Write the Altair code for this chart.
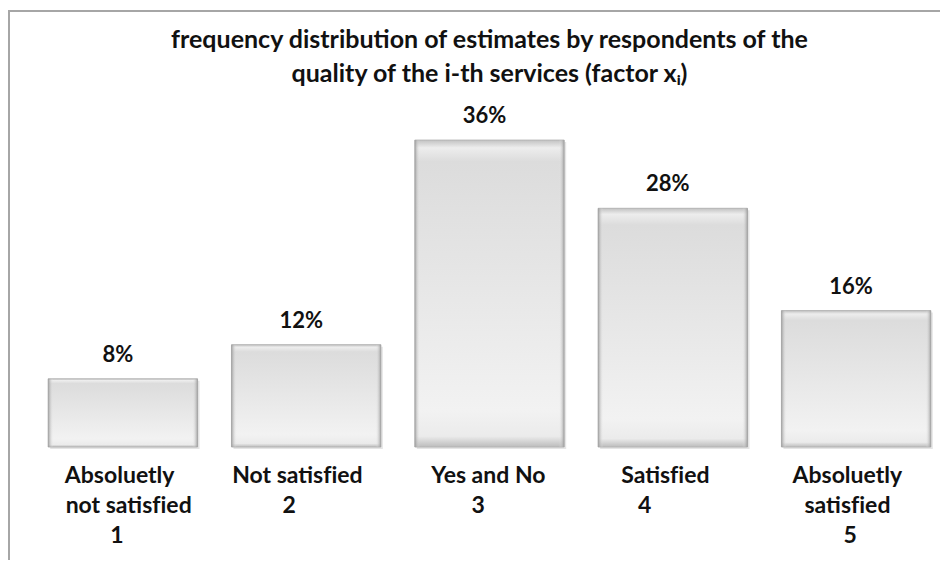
import altair as alt
import pandas as pd

# Survey answers: category caption lines, score code and share of respondents (%)
captions = [
    ["Absoluetly", "not satisfied", "1"],
    ["Not satisfied", "2"],
    ["Yes and No", "3"],
    ["Satisfied", "4"],
    ["Absoluetly", "satisfied", "5"],
]
shares = [8, 12, 36, 28, 16]

title_lines = [
    "frequency distribution of estimates by respondents of the",
    "quality of the i-th services (factor x\u1d62)",
]

# Horizontal indent (px) of each wrapped caption line from the caption's left edge
caption_indent_px = [
    [14, 14, 59],
    [1, 47],
    [16, 55],
    [24, 41],
    [13, 21, 58],
]
SPACE_PX = 5.5          # advance of one no-break space at the label size

ZWSP, NBSP, ZWNJ = "\u200b", "\u00a0", "\u200c"
FONT = "Lato"
INK = "#111111"

W, H = 901, 341
PAD = {"left": 39, "top": 106, "right": 0, "bottom": 113}


def caption_line(text, indent_px):
    # keep "f"+"i" as two glyphs, and hold the indent with no-break spaces
    text = text.replace("fi", "f" + ZWNJ + "i")
    n = int(round(indent_px / SPACE_PX))
    return (ZWSP + NBSP * n + text) if n else text


labels = [
    "|".join(caption_line(line, px) for line, px in zip(lines, ind))
    for lines, ind in zip(captions, caption_indent_px)
]
df = pd.DataFrame({
    "answer": labels,
    "share": shares,
    "share_text": [f"{v}%" for v in shares],
})

x_enc = alt.X(
    "answer:N",
    sort=labels,
    title=None,
    scale=alt.Scale(paddingInner=0.185, paddingOuter=0.05),
    axis=alt.Axis(
        labelExpr="split(datum.value, '|')",
        labelFont=FONT,
        labelFontSize=23,
        labelFontWeight="bold",
        labelColor=INK,
        labelLineHeight=30,
        labelAlign="left",
        labelBaseline="top",
        labelOffset=-74,
        labelPadding=17,
        labelOverlap=False,
        labelBound=False,
        labelFlush=False,
        labelAngle=0,
        domain=False,
        ticks=False,
        grid=False,
    ),
)
y_enc = alt.Y("share:Q", scale=alt.Scale(domain=[0, 40], nice=False), axis=None)

base = alt.Chart(df).encode(x=x_enc, y=y_enc)

face = alt.Gradient(
    gradient="linear",
    x1=0, x2=0, y1=0, y2=1,
    stops=[
        alt.GradientStop(color="#c2c2c2", offset=0.0),
        alt.GradientStop(color="#ededed", offset=0.025),
        alt.GradientStop(color="#dcdcdc", offset=0.07),
        alt.GradientStop(color="#e6e6e6", offset=0.45),
        alt.GradientStop(color="#f2f2f2", offset=0.88),
        alt.GradientStop(color="#ebebeb", offset=0.965),
        alt.GradientStop(color="#bcbcbc", offset=1.0),
    ],
)
bevel = alt.Gradient(
    gradient="linear",
    x1=0, x2=1, y1=0, y2=0,
    stops=[
        alt.GradientStop(color="rgba(150,150,150,0.85)", offset=0.0),
        alt.GradientStop(color="rgba(235,235,235,0.0)", offset=0.035),
        alt.GradientStop(color="rgba(235,235,235,0.0)", offset=0.965),
        alt.GradientStop(color="rgba(150,150,150,0.85)", offset=1.0),
    ],
)

shadow = base.mark_bar(color="#000000", opacity=0.10, xOffset=2, yOffset=2, x2Offset=2)
bars = base.mark_bar(fill=face, stroke="#b5b5b5", strokeWidth=1)
sides = base.mark_bar(fill=bevel)

values = base.mark_text(
    font=FONT, fontSize=22, fontWeight="bold", color=INK,
    baseline="alphabetic", align="center", dy=-17, dx=-5,
).encode(text="share_text:N")

# Chart-area frame along the top and left edges
frame_top = alt.Chart(df).mark_rule(color="#a6a6a6", strokeWidth=2).encode(
    x=alt.value(-30), x2=alt.value(W + 10), y=alt.value(-95)
)
frame_left = alt.Chart(df).mark_rule(color="#a6a6a6", strokeWidth=2).encode(
    x=alt.value(-30), y=alt.value(-96), y2=alt.value(H + PAD["bottom"] + 10)
)

chart = (
    alt.layer(frame_top, frame_left, shadow, bars, sides, values)
    .properties(
        width=W,
        height=H,
        padding=PAD,
        autosize=alt.AutoSizeParams(type="none"),
        background="#ffffff",
        title=alt.TitleParams(
            text=title_lines,
            font=FONT,
            fontSize=25,
            fontWeight="bold",
            color=INK,
            lineHeight=34,
            anchor="middle",
            frame="group",
            offset=-78,
        ),
    )
    .configure_view(stroke=None)
)

chart.save("out.html", embed_options={"renderer": "svg", "actions": False})
